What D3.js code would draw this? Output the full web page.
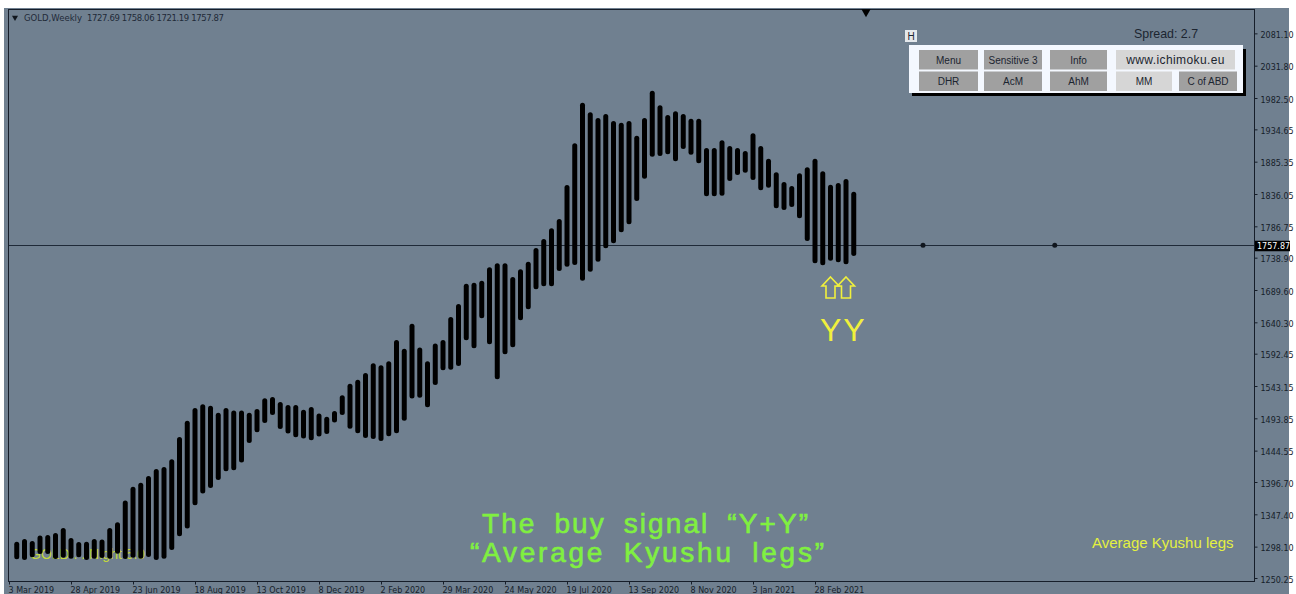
<!DOCTYPE html>
<html>
<head>
<meta charset="utf-8">
<title>GOLD,Weekly</title>
<script src="https://cdnjs.cloudflare.com/ajax/libs/d3/7.8.5/d3.min.js"></script>
<style>
    body { margin: 0; background: #fff; overflow: hidden; }
    text { font-family: "Liberation Sans", Arial, sans-serif; }
    .axis text { font-family: "DejaVu Sans", sans-serif; font-size: 8px; fill: #161e2a; }
    .axis line, .axis path { stroke: #161e2a; }
    .btn text { font-size: 10px; fill: #1c2530; text-anchor: middle; }
</style>
</head>
<body>
<div id="chart"></div>
<script>
// weekly bars, oldest first
var highs = [1305.7, 1309.9, 1306.8, 1314.9, 1316, 1319, 1326.6, 1311.4, 1305.3, 1305.7,
    1309.9, 1308.8, 1326.6, 1335.3, 1368.3, 1389.6, 1395.7, 1406, 1416.6, 1419.7,
    1431.4, 1465.4, 1490.3, 1509.7, 1515.3, 1513.2, 1502.5, 1509.7, 1505.6, 1505.6,
    1502.5, 1508.2, 1524.5, 1526.5, 1518.8, 1514.3, 1514.3, 1507.1, 1511.2, 1501.3,
    1496.4, 1505.1, 1529, 1546.7, 1552.8, 1563.1, 1577.9, 1574.8, 1580.9, 1613.4,
    1600.1, 1638.3, 1601.7, 1580.9, 1607.8, 1613.4, 1648.5, 1668.3, 1699.3, 1700.8,
    1703.8, 1724.3, 1730.4, 1730.4, 1709.5, 1721.2, 1732.8, 1753.7, 1767.5, 1783.8,
    1798, 1849.8, 1913.4, 1975.4, 1960.7, 1952, 1958.1, 1947.4, 1944.8, 1947.4,
    1925, 1952, 1993.7, 1971.4, 1956.6, 1962.2, 1958.1, 1950.9, 1950.9, 1906.3,
    1906.3, 1918, 1909.3, 1906.3, 1901.7, 1928.7, 1909.3, 1889.9, 1869.2, 1854.4,
    1848.3, 1867.7, 1876.8, 1889.9, 1870.7, 1850.3, 1852.9, 1859, 1839.6];

var lows = [1278.9, 1277.8, 1281.9, 1287, 1287, 1279.4, 1281.3, 1279.8, 1281.9, 1277.8,
    1279.8, 1280.9, 1279.8, 1287.4, 1279.4, 1281.3, 1279.8, 1282.4, 1277.8, 1279.8,
    1293.1, 1314, 1325.6, 1361.3, 1379, 1387.7, 1399.9, 1413.1, 1414.7, 1426.3,
    1456.3, 1472.6, 1486.8, 1499, 1477.6, 1470.5, 1465, 1462.9, 1460.4, 1466.2,
    1470, 1487.3, 1499, 1478.1, 1471.1, 1463.9, 1462.4, 1459.3, 1466.5, 1471.1,
    1490.3, 1523.9, 1525.4, 1510.7, 1544.8, 1567.2, 1568.1, 1573.7, 1612.9, 1600.7,
    1646.5, 1606.8, 1553.5, 1591.6, 1602.3, 1643.4, 1660.2, 1690.7, 1695.3, 1695.3,
    1718.6, 1725.2, 1727.8, 1703.9, 1717.6, 1732.8, 1753.3, 1760.9, 1777.7, 1789.9,
    1825.4, 1859.4, 1893, 1894.1, 1896.6, 1886, 1904.7, 1896, 1882.9, 1832.6,
    1832.6, 1833.5, 1855.9, 1865.1, 1868.6, 1857.4, 1841.7, 1845.7, 1814.3, 1811.7,
    1816.3, 1799, 1764.4, 1730.4, 1727.3, 1734.4, 1731.9, 1728.9, 1741.5];

var priceTicks = [2081.10, 2031.80, 1982.50, 1934.65, 1885.35, 1836.05, 1786.75, 1738.90, 1689.60,
    1640.30, 1592.45, 1543.15, 1493.85, 1444.55, 1396.70, 1347.40, 1298.10, 1250.25];

var dateTickWeeks = [0, 8, 16, 24, 32, 40, 48, 56, 64, 72, 80, 88, 96, 104];
var dateTickLabels = ["3 Mar 2019", "28 Apr 2019", "23 Jun 2019", "18 Aug 2019", "13 Oct 2019",
    "8 Dec 2019", "2 Feb 2020", "29 Mar 2020", "24 May 2020", "19 Jul 2020", "13 Sep 2020",
    "8 Nov 2020", "3 Jan 2021", "28 Feb 2021"];

var lastPrice = 1757.87;
var futureWeeks = [118, 135];
var signalWeeks = [106, 108];

var buttonsTop = [["Menu", 919, 59, 0], ["Sensitive 3", 984, 58, 0], ["Info", 1050, 57, 0], ["www.ichimoku.eu", 1116, 119, 1]];
var buttonsBottom = [["DHR", 919, 59, 0], ["AcM", 984, 58, 0], ["AhM", 1050, 57, 0], ["MM", 1116, 56, 1], ["C of ABD", 1179, 58, 0]];

var svg = d3.select("#chart").append("svg")
    .attr("width", 1296)
    .attr("height", 594);

var plot = { left: 8, right: 1254, top: 9, bottom: 581 };

// x runs on week number, one bar every 7.75px
var x = d3.scaleLinear().domain([0, 160.645]).range([9, 1254]);
var y = d3.scaleLinear().domain([1250.25, 1982.5]).range([578, 98]);

svg.append("rect")
    .attr("x", 4).attr("y", 8)
    .attr("width", 1285).attr("height", 586)
    .attr("fill", "#708090");

// this label sits under the bars in the original
svg.append("text")
    .attr("x", 30).attr("y", 559)
    .attr("font-size", 14)
    .attr("fill", "#c4d83c")
    .text("GOLD . . Night 5.0");

svg.append("line")
    .attr("x1", plot.left).attr("x2", plot.right)
    .attr("y1", Math.round(y(lastPrice)) + 0.5).attr("y2", Math.round(y(lastPrice)) + 0.5)
    .attr("stroke", "#1f2a38");

svg.selectAll("rect.bar")
    .data(highs)
    .enter()
    .append("rect")
    .attr("class", "bar")
    .attr("x", function (d, i) { return x(i + 1) - 2.5; })
    .attr("y", function (d) { return y(d); })
    .attr("width", 5)
    .attr("height", function (d, i) { return y(lows[i]) - y(d); })
    .attr("rx", 2.5)
    .attr("fill", "#000");

svg.selectAll("circle.future")
    .data(futureWeeks)
    .enter()
    .append("circle")
    .attr("class", "future")
    .attr("cx", function (d) { return x(d) - 0.5; })
    .attr("cy", y(lastPrice))
    .attr("r", 2.5)
    .attr("fill", "#10161e");

// frame
svg.append("rect")
    .attr("x", plot.left + 0.5).attr("y", plot.top + 0.5)
    .attr("width", plot.right - plot.left).attr("height", plot.bottom - plot.top)
    .attr("fill", "none")
    .attr("stroke", "#161e2a");

// axes
var yAxis = d3.axisRight(y)
    .tickValues(priceTicks)
    .tickSize(3)
    .tickPadding(3)
    .tickFormat(d3.format(".2f"));

svg.append("g")
    .attr("class", "axis")
    .attr("transform", "translate(" + (plot.right + 0.5) + ",0)")
    .call(yAxis)
    .call(function (g) {
        g.select(".domain").remove();
        g.selectAll("text").attr("dy", "0.5em");
    });

var xAxis = d3.axisBottom(x)
    .tickValues(dateTickWeeks)
    .tickSize(3)
    .tickFormat(function (d, i) { return dateTickLabels[i]; });

svg.append("g")
    .attr("class", "axis")
    .attr("transform", "translate(0," + (plot.bottom + 0.5) + ")")
    .call(xAxis)
    .call(function (g) {
        g.select(".domain").remove();
        g.selectAll("text").attr("text-anchor", "start").attr("x", -1).attr("y", 6).attr("dy", "0.71em");
    });

// last price tag
svg.append("rect")
    .attr("x", 1255).attr("y", y(lastPrice) - 4.5)
    .attr("width", 35).attr("height", 10.5)
    .attr("fill", "#000");
svg.append("text")
    .attr("x", 1257).attr("y", y(lastPrice) + 4)
    .attr("font-size", 8)
    .attr("fill", "#fff")
    .style("font-family", "'DejaVu Sans'")
    .text(d3.format(".2f")(lastPrice));

// header
svg.append("path")
    .attr("d", d3.symbol(d3.symbolTriangle, 16))
    .attr("transform", "translate(15,17.5) rotate(180)")
    .attr("fill", "#10161e");
svg.append("text")
    .attr("x", 24).attr("y", 21)
    .attr("font-size", 8.5)
    .attr("fill", "#1f2a38")
    .style("font-family", "'DejaVu Sans'")
    .attr("textLength", 58)
    .text("GOLD,Weekly");
svg.append("text")
    .attr("x", 87).attr("y", 21)
    .attr("font-size", 8.5)
    .attr("fill", "#1f2a38")
    .style("font-family", "'DejaVu Sans'")
    .attr("textLength", 137)
    .text("1727.69 1758.06 1721.19 1757.87");

svg.append("path")
    .attr("d", d3.symbol(d3.symbolTriangle, 36))
    .attr("transform", "translate(866,12) rotate(180)")
    .attr("fill", "#000");

// signal arrows and letters
var arrow = "M0,0 L8.5,9 L4.5,9 L4.5,21 L-4.5,21 L-4.5,9 L-8.5,9 Z";
svg.selectAll("path.arrow")
    .data(signalWeeks)
    .enter()
    .append("path")
    .attr("class", "arrow")
    .attr("d", arrow)
    .attr("transform", function (d) { return "translate(" + x(d) + ",277)"; })
    .attr("fill", "none")
    .attr("stroke", "#f0f03c")
    .attr("stroke-width", 1.6);

svg.append("text")
    .attr("x", 820).attr("y", 341)
    .attr("font-size", 32)
    .attr("letter-spacing", 2)
    .attr("fill", "#f0f03c")
    .text("YY");

// captions
svg.append("text")
    .attr("x", 482).attr("y", 533)
    .attr("font-size", 28)
    .attr("fill", "#80f040")
    .attr("stroke", "#80f040")
    .attr("stroke-width", 0.6)
    .attr("word-spacing", 8)
    .attr("textLength", 326)
    .text("The buy signal \u201CY+Y\u201D");
svg.append("text")
    .attr("x", 470).attr("y", 562)
    .attr("font-size", 28)
    .attr("fill", "#80f040")
    .attr("stroke", "#80f040")
    .attr("stroke-width", 0.6)
    .attr("word-spacing", 8)
    .attr("textLength", 354)
    .text("\u201CAverage Kyushu legs\u201D");
svg.append("text")
    .attr("x", 1092).attr("y", 548)
    .attr("font-size", 15)
    .attr("fill", "#e4f040")
    .text("Average Kyushu legs");

// button panel
svg.append("text")
    .attr("x", 1134).attr("y", 38)
    .attr("font-size", 12.4)
    .attr("fill", "#1c2530")
    .text("Spread: 2.7");

svg.append("rect")
    .attr("x", 905).attr("y", 30)
    .attr("width", 12).attr("height", 12)
    .attr("fill", "#e4e8ec");
svg.append("text")
    .attr("x", 911).attr("y", 40)
    .attr("font-size", 10)
    .attr("text-anchor", "middle")
    .attr("fill", "#1c2530")
    .text("H");

svg.append("rect")
    .attr("x", 912).attr("y", 49)
    .attr("width", 334).attr("height", 47)
    .attr("fill", "#000");
svg.append("rect")
    .attr("x", 909).attr("y", 45)
    .attr("width", 334).attr("height", 48)
    .attr("fill", "#f4f8ff");

function drawButtons(list, top) {
    var g = svg.append("g").attr("class", "btn");
    var b = g.selectAll("g")
        .data(list)
        .enter()
        .append("g");
    b.append("rect")
        .attr("x", function (d) { return d[1]; })
        .attr("y", top)
        .attr("width", function (d) { return d[2]; })
        .attr("height", 19.5)
        .attr("fill", function (d) { return d[3] ? "#d6d6d6" : "#a0a0a0"; });
    b.append("text")
        .attr("x", function (d) { return d[1] + d[2] / 2; })
        .attr("y", top + 13.5)
        .attr("letter-spacing", function (d) { return d[3] && d[2] > 100 ? 0.4 : 0; })
        .style("font-size", function (d) { return d[3] && d[2] > 100 ? "12px" : "10px"; })
        .text(function (d) { return d[0]; });
}

drawButtons(buttonsTop, 50);
drawButtons(buttonsBottom, 71.5);
</script>
</body>
</html>
